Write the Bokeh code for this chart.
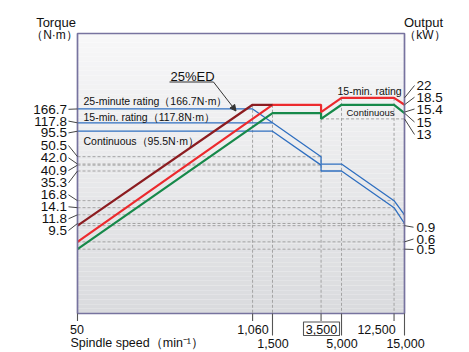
import numpy as np
from math import log10
from bokeh.plotting import figure
from bokeh.models import Range1d, LogScale, Arrow, NormalHead
from bokeh.core.properties import value
from bokeh.embed import file_html
from bokeh.resources import INLINE

# ---------------- data ----------------
speed_row1 = [50, 1060, 3500, 12500]
speed_row1_labels = ["50", "1,060", "3,500", "12,500"]
speed_row2 = [1500, 5000, 15000]
speed_row2_labels = ["1,500", "5,000", "15,000"]

# output (kW) curves
ed25_speed = [50, 1060, 1500]
ed25_kw = [0.9, 18.5, 18.5]
min15_speed = [50, 1500, 3500, 3500, 5000, 12500, 15000]
min15_kw = [0.6, 18.5, 18.5, 15.4, 22, 22, 18.5]
cont_speed = [50, 1500, 3500, 3500, 5000, 12500, 15000]
cont_kw = [0.5, 15, 15, 13, 18.5, 18.5, 15]

# torque (N·m) curves
tq25_speed = [50, 1060, 1500]
tq25_nm = [166.7, 166.7, 117.8]
tq15_speed = [50, 1500, 3500, 3500, 5000, 12500, 15000]
tq15_nm = [117.8, 117.8, 50.5, 42.0, 42.0, 16.8, 11.8]
tqc_speed = [50, 1500, 3500, 3500, 5000, 12500, 15000]
tqc_nm = [95.5, 95.5, 40.9, 35.3, 35.3, 14.1, 9.5]

torque_ticks = [166.7, 117.8, 95.5, 50.5, 42.0, 40.9, 35.3, 16.8, 14.1, 11.8, 9.5]
torque_labels = ["166.7", "117.8", "95.5", "50.5", "42.0", "40.9", "35.3", "16.8", "14.1", "11.8", "9.5"]
out_ticks_hi = [22, 18.5, 15.4, 15, 13]
out_labels_hi = ["22", "18.5", "15.4", "15", "13"]
out_ticks_lo = [0.9, 0.6, 0.5]
out_labels_lo = ["0.9", "0.6", "0.5"]

# guide lines
torque_guides = [50.5, 42.0, 40.9, 35.3, 16.8, 14.1, 11.8, 9.5]
torque_guide_end = [3500, 3500, 3500, 3500, 12500, 12500, 15000, 15000]
vguide_speed = [1060, 1500, 3500, 5000, 12500]
vguide_top_kw = [18.5, 18.5, 18.5, 22, 22]

# ---------------- layout (reference pixel coordinates) ----------------
X0, X1 = 50, 15000          # speed range of chart frame
P0, P1 = 0.1, 110           # output range of chart frame
TQ = 10.0                   # torque axis = output axis x 10
FL, FR, FT, FB = 77, 404, 33, 313
OFF = 0
W, H = 469, 352
DX = (FR - FL) / log10(X1 / X0)
DY = (FB - FT) / log10(P1 / P0)

def X(px):
    return X0 * 10 ** ((px - FL) / DX)

def KW(py):
    return P0 * 10 ** ((FB - py) / DY)

p = figure(width=W, height=H, output_backend="svg", toolbar_location=None,
           x_axis_location=None, y_axis_location=None,
           x_axis_type="log", y_axis_type="log",
           x_range=Range1d(X(OFF), X(OFF + W)),
           y_range=Range1d(KW(OFF + H), KW(OFF)),
           min_border=0)
p.x_scale = LogScale()
p.y_scale = LogScale()
p.extra_y_ranges = {"torque": Range1d(KW(OFF + H) * TQ, KW(OFF) * TQ)}
p.extra_y_scales = {"torque": LogScale()}
p.outline_line_color = None
p.grid.visible = False
p.background_fill_color = "white"
p.border_fill_color = "white"

FONT = value("Liberation Sans")
TXT = "#111111"

# background gradient
edges = np.geomspace(P0, P1, 61)
c_bot = np.array([218, 219, 222])
c_top = np.array([248, 248, 249])
cols = []
for i in range(len(edges) - 1):
    t = (i + 0.5) / (len(edges) - 1)
    c = (c_bot + (c_top - c_bot) * t).astype(int)
    cols.append("#%02x%02x%02x" % tuple(c))
p.quad(left=X0, right=X1, bottom=edges[:-1], top=edges[1:], fill_color=cols, line_color=None)

GUIDE = "#a3a3a3"
# horizontal torque guides
p.segment(x0=[X0] * len(torque_guides), y0=torque_guides, x1=torque_guide_end, y1=torque_guides,
          y_range_name="torque", line_color=GUIDE, line_width=1, line_dash="3 2")
# output guides
p.segment(x0=[X0] * 3, y0=out_ticks_lo, x1=[X1] * 3, y1=out_ticks_lo,
          line_color=GUIDE, line_width=1, line_dash="3 2")
p.segment(x0=[3500], y0=[13], x1=[X1], y1=[13], line_color=GUIDE, line_width=1, line_dash="3 2")
# vertical guides
p.segment(x0=vguide_speed, y0=vguide_top_kw, x1=vguide_speed, y1=[P0] * len(vguide_speed),
          line_color=GUIDE, line_width=1, line_dash="3 2")

# torque curves
BLUE = "#2f6fc0"
for xs, ys in [(tq25_speed, tq25_nm), (tq15_speed, tq15_nm), (tqc_speed, tqc_nm)]:
    p.line(xs, ys, y_range_name="torque", line_color=BLUE, line_width=1.3)

# output curves
p.line(cont_speed, cont_kw, line_color="#16894a", line_width=2.2)
p.line(min15_speed, min15_kw, line_color="#ec2a2e", line_width=2.2)
p.line(ed25_speed, ed25_kw, line_color="#8c1c20", line_width=2.2)

# frame
p.quad(left=[X0], right=[X1], bottom=[P0], top=[P1], fill_color=None,
       line_color="#77739f", line_width=1.7)

# ---- left torque labels with leaders ----
left_label_py = [108.8, 120.6, 132.4, 145.0, 157.3, 170.0, 182.3, 194.3, 206.3, 218.3, 230.0]
p.segment(x0=[X(68)] * len(torque_ticks), y0=[KW(v) for v in left_label_py],
          x1=[X0] * len(torque_ticks), y1=[t / TQ for t in torque_ticks],
          line_color="#444444", line_width=1)
p.text(x=[X(66.5)] * len(torque_ticks), y=[KW(v) for v in left_label_py], text=torque_labels,
       text_font=FONT, text_font_size="13.5px", text_color=TXT,
       text_align="right", text_baseline="middle")

# ---- right output labels with leaders ----
right_hi_py = [85.0, 96.7, 108.5, 121.5, 134.0]
p.segment(x0=[X1] * 5, y0=out_ticks_hi, x1=[X(414)] * 5, y1=[KW(v) for v in right_hi_py],
          line_color="#444444", line_width=1)
p.text(x=[X(416)] * 5, y=[KW(v) for v in right_hi_py], text=out_labels_hi,
       text_font=FONT, text_font_size="13.5px", text_color=TXT,
       text_align="left", text_baseline="middle")
right_lo_py = [226.7, 238.5, 249.0]
p.segment(x0=[X1] * 3, y0=out_ticks_lo, x1=[X(413)] * 3, y1=[KW(v) for v in right_lo_py],
          line_color="#444444", line_width=1)
p.text(x=[X(416)] * 3, y=[KW(v) for v in right_lo_py], text=out_labels_lo,
       text_font=FONT, text_font_size="13.5px", text_color=TXT,
       text_align="left", text_baseline="middle")

# ---- bottom speed ticks and labels ----
p.segment(x0=speed_row1, y0=[P0] * 4, x1=speed_row1, y1=[KW(320.5)] * 4, line_color="#555555", line_width=1.1)
p.segment(x0=speed_row2, y0=[P0] * 3, x1=speed_row2, y1=[KW(335)] * 3, line_color="#555555", line_width=1.1)
row1_x = [X(76.5), X(252.5), X(321), X(376)]
p.text(x=row1_x, y=[KW(329)] * 4, text=speed_row1_labels, text_font=FONT, text_font_size="12.5px",
       text_color=TXT, text_align="center", text_baseline="middle")
p.text(x=[X(272.5), X(341.5), X(405)], y=[KW(342.5)] * 3, text=speed_row2_labels, text_font=FONT,
       text_font_size="12.5px", text_color=TXT, text_align="center", text_baseline="middle")
p.quad(left=[X(303)], right=[X(339)], bottom=[KW(335)], top=[KW(321.5)], fill_color=None,
       line_color="#555555", line_width=1.1)

# ---- titles ----
p.text(x=[X(55.5)], y=[KW(21.5)], text=["Torque"], text_font=FONT, text_font_size="13px",
       text_color=TXT, text_align="center", text_baseline="middle")
p.text(x=[X(54)], y=[KW(34)], text=["（N·m）"], text_font=FONT, text_font_size="12px",
       text_color=TXT, text_align="center", text_baseline="middle")
p.text(x=[X(423)], y=[KW(22)], text=["Output"], text_font=FONT, text_font_size="13px",
       text_color=TXT, text_align="center", text_baseline="middle")
p.text(x=[X(424.5)], y=[KW(34)], text=["（kW）"], text_font=FONT, text_font_size="12px",
       text_color=TXT, text_align="center", text_baseline="middle")
p.text(x=[X(70)], y=[KW(342)], text=["Spindle speed（min⁻¹）"], text_font=FONT, text_font_size="12.5px",
       text_color=TXT, text_align="left", text_baseline="middle")

# ---- curve annotations ----
p.text(x=[X(83)] * 3, y=[KW(100.8), KW(116.2), KW(140)],
       text=["25-minute rating（166.7N·m）", "15-min. rating（117.8N·m）", "Continuous（95.5N·m）"],
       text_font=FONT, text_font_size="10.5px", text_color=TXT, text_align="left", text_baseline="middle")
p.text(x=[X(337)], y=[KW(90)], text=["15-min. rating"], text_font=FONT, text_font_size="10.5px",
       text_color=TXT, text_align="left", text_baseline="middle")
p.text(x=[X(346)], y=[KW(111.7)], text=["Continuous"], text_font=FONT, text_font_size="9.5px",
       text_color=TXT, text_align="left", text_baseline="middle")
p.text(x=[X(170)], y=[KW(76)], text=["25%ED"], text_font=FONT, text_font_size="13px",
       text_color=TXT, text_align="left", text_baseline="middle")
p.segment(x0=[X(169)], y0=[KW(81.5)], x1=[X(213)], y1=[KW(81.5)], line_color="#333333", line_width=1)
p.add_layout(Arrow(end=NormalHead(size=6, fill_color="#333333", line_color="#333333"),
                   x_start=X(213), y_start=KW(81.5), x_end=X(235.5), y_end=KW(110.5),
                   line_color="#333333", line_width=1))

open("out.html", "w").write(file_html(p, INLINE))
